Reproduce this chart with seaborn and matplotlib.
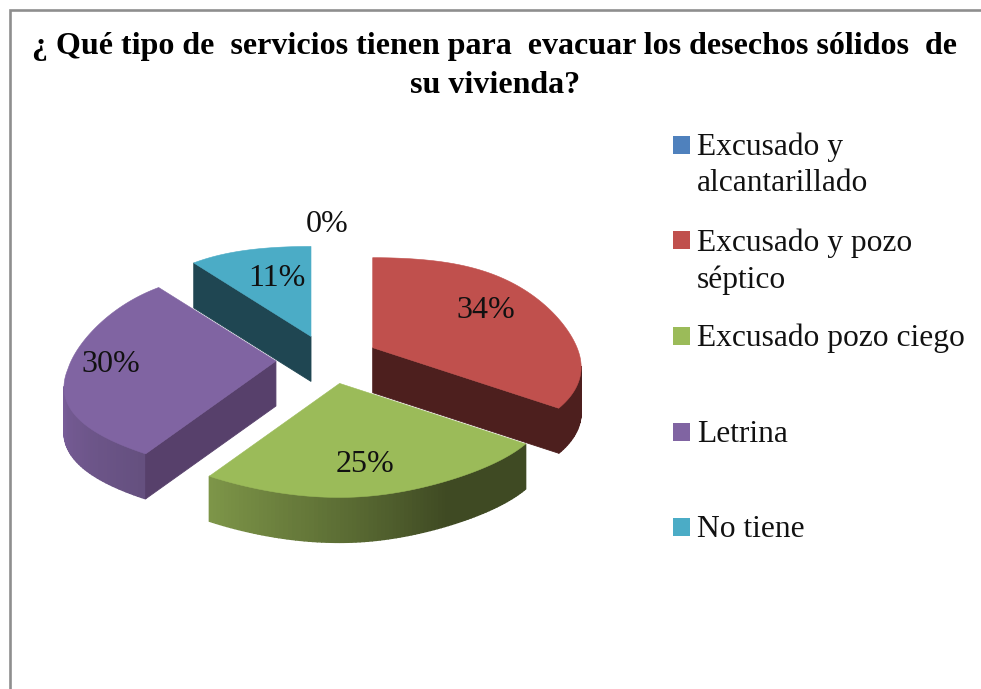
import numpy as np
import matplotlib
matplotlib.use('Agg')
import matplotlib.pyplot as plt
import seaborn as sns

# datos
categorias = ['Excusado y\nalcantarillado', 'Excusado y pozo\nséptico',
              'Excusado pozo ciego', 'Letrina', 'No tiene']
valores = [0, 34, 25, 30, 11]
titulo = '¿ Qué tipo de  servicios tienen para  evacuar los desechos sólidos  de\nsu vivienda?'

colores = ['#4F81BD', '#C0504D', '#9BBB59', '#8064A2', '#4BACC6']
# color de la pared: cortes y degradado exterior
cortes = ['#2A4564', '#4D1F1E', '#3F4A23', '#57406B', '#1F4652']
paredes = [['#2A4564', '#2A4564'],
           ['#4D1F1E', '#4D1F1E'],
           ['#3F4A23', '#3F4A23', '#5F7136', '#7D9548'],
           ['#65507F', '#7B5F9C', '#7B5F9C'],
           ['#1F4652', '#1F4652']]
pos_etiquetas = [(327, 225), (486, 311), (365, 465), (111, 365), (277, 279)]

# geometria de la "torta 3D"
cx, cy = 328, 359
ry = 98
sube = 8
prof = 45
explode = 0.25

sns.set_theme(style='white')
plt.rcParams['font.family'] = ['Liberation Serif', 'DejaVu Serif']


def proyectar(r, ang):
    # angulo en grados, sentido horario desde arriba, con algo de perspectiva
    u = r * np.sin(np.radians(ang))
    v = r * np.cos(np.radians(ang))
    k = np.where(u >= 0, 0.12, np.where(v < 0, 0.20, 0.15))
    rx = np.where(u >= 0, 207, 208)
    # el arco del original es mas redondo que una elipse
    extra = np.where(v < 0, 8 * v ** 8, -25 * v ** 2 * np.clip(r ** 2 - v ** 2, 0, None))
    return rx * u * (1 - k * v), -ry * v + sube * r ** 2 + extra


fig = plt.figure(figsize=(9.81, 6.89), dpi=100)
ax = fig.add_axes([0, 0, 1, 1])
ax.set_xlim(0, 981)
ax.set_ylim(689, 0)
ax.axis('off')

# marco gris, solo arriba e izquierda quedan dentro de la imagen
ax.plot([10, 10, 981], [689, 10, 10], color='#8E8E8E', lw=1.9, solid_joinstyle='miter')

fracciones = np.array(valores) / sum(valores) * 360
inicio = np.concatenate([[0], np.cumsum(fracciones)[:-1]])

# de atras hacia adelante
for i in [4, 3, 1, 2]:
    a0, a1 = inicio[i], inicio[i] + fracciones[i]
    medio = (a0 + a1) / 2
    ex, ey = proyectar(explode, medio)
    ox, oy = cx + ex, cy + ey

    angs = np.linspace(a0, a1, 90)
    ax_arc, ay_arc = proyectar(1.0, angs)
    xs = ox + np.asarray(ax_arc)
    ys = oy + np.asarray(ay_arc)

    # paredes exteriores con degradado, solo las que miran al frente
    tonos = sns.blend_palette(paredes[i], n_colors=len(angs) - 1)
    for j in range(len(angs) - 1):
        if xs[j + 1] - xs[j] < 0:
            qx = [xs[j], xs[j + 1], xs[j + 1], xs[j]]
            qy = [ys[j], ys[j + 1], ys[j + 1] + prof, ys[j] + prof]
            ax.fill(qx, qy, color=tonos[j], lw=1.0)

    # los dos cortes
    for (x1, y1, x2, y2) in [(ox, oy, xs[0], ys[0]), (xs[-1], ys[-1], ox, oy)]:
        if x2 - x1 < 0:
            ax.fill([x1, x2, x2, x1], [y1, y2, y2 + prof, y1 + prof], color=cortes[i], lw=0.6)

    # cara de arriba
    ax.fill(np.r_[ox, xs], np.r_[oy, ys], color=colores[i], lw=0.4)

# porcentajes
for val, (px, py) in zip(valores, pos_etiquetas):
    ax.text(px, py, f'{val}%', fontsize=23, color='#111111', ha='center', va='center')

ax.text(495, 66, titulo, fontsize=23, fontweight='bold', color='black',
        ha='center', va='center', linespacing=1.46)

# leyenda a mano, entradas con paso fijo
for i, nombre in enumerate(categorias):
    y = 144.5 + i * 95.7
    ax.fill([673, 690, 690, 673], [y - 9, y - 9, y + 9, y + 9], color=colores[i], lw=0)
    ax.text(697, y - 12, nombre, fontsize=22.7, color='#111111', ha='left', va='top', linespacing=1.33)

fig.savefig('out.png', dpi=100)
